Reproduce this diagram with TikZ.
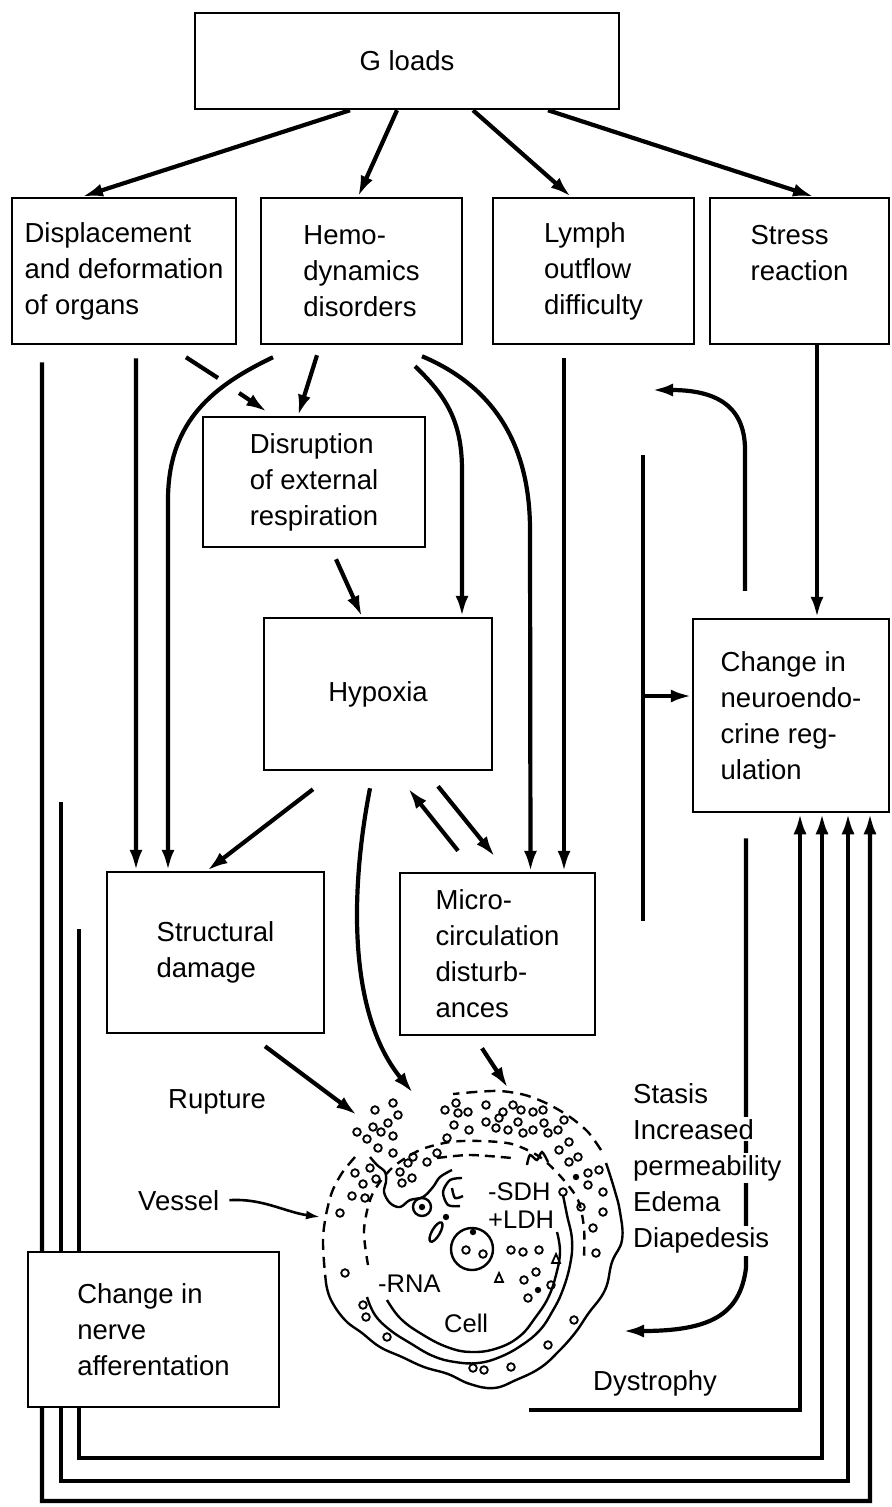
\documentclass[tikz,border=0pt]{standalone}
\usepackage{fontspec}
\setmainfont{Liberation Sans}
\usetikzlibrary{arrows.meta}
\begin{document}
\begin{tikzpicture}[x=1bp, y=-1bp,
        box/.style={draw, line width=2.5bp, inner sep=0pt, align=left,
            font=\fontsize{27.5bp}{36bp}\selectfont},
        lbl/.style={inner sep=0pt, font=\fontsize{27.5bp}{36bp}\selectfont},
        tag/.style={inner sep=0pt, font=\fontsize{25.5bp}{30bp}\selectfont},
        arr/.style={line width=4.2bp, -{Latex[length=21bp,width=13bp]}},
        wire/.style={line width=4.2bp},
        cellline/.style={line width=2.4bp},
        gran/.style={line width=1.8bp}]
            \useasboundingbox (0,0) rectangle (891,1507);
            \fill[white] (0,0) rectangle (891,1507);

            \node[box, minimum width=424bp, minimum height=96bp] (gload) at (407,61) {G loads};
            \node[box, minimum width=224bp, minimum height=146bp] (disp) at (124,271) {Displacement\\and deformation\\of organs};
            \node[box, minimum width=201bp, minimum height=146bp] (hemo) at (361.5,271) {Hemo-\\dynamics\\disorders};
            \node[box, minimum width=201bp, minimum height=146bp] (lymph) at (593.5,271) {Lymph\\outflow\\difficulty};
            \node[box, minimum width=179bp, minimum height=146bp] (stress) at (799.5,271) {Stress\\reaction\\\mbox{}};
            \node[box, minimum width=222bp, minimum height=130bp] (disr) at (314,482) {Disruption\\of external\\respiration};
            \node[box, minimum width=228bp, minimum height=152bp] (hyp) at (378,694) {Hypoxia};
            \node[box, minimum width=196bp, minimum height=193bp] (neuro) at (791,715.5) {Change in\\neuroendo-\\crine reg-\\ulation};
            \node[box, minimum width=217bp, minimum height=161bp] (struct) at (215.5,952.5) {Structural\\damage};
            \node[box, minimum width=195bp, minimum height=162bp] (micro) at (497.5,954) {Micro-\\circulation\\disturb-\\ances};

            \coordinate (gapA) at (218,378);
            \coordinate (gapB) at (239,393);
            \coordinate (cellA) at (357,1115);
            \coordinate (cellB) at (413,1093);
            \coordinate (cellC) at (508,1088);
            \coordinate (wall) at (320,1217);
            \coordinate (fb) at (652,390);
            \coordinate (dys) at (623,1331);
            \coordinate (busT) at (643,455);
            \coordinate (busM) at (643,696);
            \coordinate (busB) at (643,921);
            \coordinate (outB) at (42,1501);
            \coordinate (midA) at (61,802);
            \coordinate (midB) at (61,1481);
            \coordinate (inA) at (79,929);
            \coordinate (inB) at (79,1458);
            \coordinate (dysA) at (529,1410);

            \draw[arr] ([xshift=-57bp]gload.south) -- ([xshift=-42bp]disp.north);
            \draw[arr] ([xshift=-10bp]gload.south) -- ([xshift=-3.5bp]hemo.north);
            \draw[arr] ([xshift=66bp]gload.south) -- ([xshift=-22.5bp]lymph.north);
            \draw[arr] ([xshift=141bp]gload.south) -- ([xshift=14.5bp]stress.north);

            \draw[arr] ([xshift=12bp,yshift=-13bp]disp.south) -- ([xshift=-79.5bp]struct.north);
            \draw[wire] ([xshift=62bp,yshift=-12bp]disp.south) -- (gapA);
            \draw[arr] (gapB) -- ([xshift=-47bp,yshift=4bp]disr.north);
            \draw[arr] ([xshift=-88.5bp,yshift=-12bp]hemo.south) .. controls (215,385) and (168,420) .. (168,500) -- ([xshift=-47.5bp]struct.north);
            \draw[arr] ([xshift=-44.5bp,yshift=-10bp]hemo.south) -- ([xshift=-16bp]disr.north);
            \draw[arr] ([xshift=53.5bp,yshift=-21bp]hemo.south) .. controls (445,395) and (462,420) .. (462,470) -- ([xshift=84bp]hyp.north);
            \draw[arr] ([xshift=60.5bp,yshift=-11bp]hemo.south) .. controls (490,385) and (530,440) .. (530,530) -- ([xshift=33bp]micro.north);
            \draw[arr] ([xshift=-29.5bp,yshift=-13bp]lymph.south) -- ([xshift=-29.5bp]lymph.south |- micro.north);
            \draw[arr] ([xshift=17.5bp]stress.south) -- ([xshift=17.5bp]stress.south |- neuro.north);

            \draw[arr] ([xshift=22bp,yshift=-11bp]disr.south) -- ([xshift=-16bp]hyp.north);
            \draw[arr] ([xshift=-65bp,yshift=-18bp]hyp.south) -- ([xshift=-8.5bp]struct.north);
            \draw[arr] ([xshift=-8bp,yshift=-17bp]hyp.south) .. controls (352,880) and (345,1010) .. (cellB);
            \draw[arr] ([xshift=-39.5bp,yshift=21bp]micro.north) -- ([xshift=30bp,yshift=-17bp]hyp.south);
            \draw[arr] ([xshift=60bp,yshift=-15bp]hyp.south) -- ([xshift=-2.5bp,yshift=15bp]micro.north);
            \draw[arr] ([xshift=49.5bp,yshift=-12bp]struct.south) -- (cellA);
            \draw[arr] ([xshift=-15.5bp,yshift=-12bp]micro.south) -- (cellC);

            \draw[arr] ([xshift=-46bp,yshift=27bp]neuro.north) -- (745,450) .. controls (745,405) and (715,390) .. (fb);
            \draw[wire] (busT) -- (busB);
            \draw[arr] (busM) -- (busM -| neuro.west);
            \draw[arr] ([xshift=-45bp,yshift=-25bp]neuro.south) -- (746,1268) .. controls (740,1315) and (710,1331) .. (dys);

            \draw[arr] ([xshift=-82bp,yshift=-17bp]disp.south) -- (outB) -| ([xshift=79bp]neuro.south);
            \draw[arr] (midA) -- (midB) -| ([xshift=57bp]neuro.south);
            \draw[arr] (inA) -- (inB) -| ([xshift=31bp]neuro.south);
            \draw[arr] (dysA) -| ([xshift=9bp]neuro.south);

            \node[box, fill=white, minimum width=251bp, minimum height=155bp] (nerve) at (153.5,1329.5) {Change in\\nerve\\afferentation};

            \foreach \t [count=\i from 0] in {Stasis,Increased,permeability,Edema,Diapedesis}
            {
                \node[lbl, fill=white, inner sep=2bp, anchor=base west] (stasis\i) at (631,{1103+36.2*\i}) {\t};
            }
            \node[lbl, anchor=base west] (dystrophy) at (593,1390) {Dystrophy};
            \node[lbl, anchor=base west] (rupture) at (168,1108) {Rupture};
            \node[lbl, anchor=base west] (vessel) at (138,1210) {Vessel};
            \draw[line width=2.6bp, -{Latex[length=14bp,width=9bp]}] ([xshift=10bp]vessel.east) .. controls (262,1198) and (285,1212) .. (wall);

            % cell
            \draw[cellline] plot[smooth, tension=0.7] coordinates {(326,1283) (331,1300) (345,1320) (362,1333) (380,1347) (402,1357) (424,1367) (448,1374) (470,1384) (494,1388) (516,1380) (540,1368) (558,1352) (575,1333) (588,1314) (605,1290) (612,1262) (622,1240) (620,1212) (614,1188) (606,1163)};
            \draw[cellline, dash pattern=on 11bp off 7bp] plot[smooth] coordinates {(601,1150) (588,1132) (570,1117) (548,1104) (525,1095) (500,1091) (475,1092) (453,1094)};
            \draw[cellline, dash pattern=on 11bp off 7bp] plot[smooth] coordinates {(355,1157) (342,1173) (332,1192) (326,1215) (323,1238) (324,1262) (326,1283)};
            \draw[cellline, dash pattern=on 9bp off 7bp] plot[smooth] coordinates {(368,1265) (364,1230) (372,1195) (392,1168) (420,1150) (450,1142) (480,1141) (512,1144) (540,1157) (562,1178) (578,1200) (584,1228) (584,1258)};
            \draw[cellline, dash pattern=on 10bp off 6bp] plot[smooth] coordinates {(437,1158) (470,1155) (512,1158)};
            \draw[cellline] plot[smooth, tension=0.7] coordinates {(367,1297) (375,1315) (390,1330) (410,1343) (433,1356) (455,1362) (478,1363) (500,1357) (522,1345) (540,1330) (552,1312) (562,1292) (570,1265) (572,1240) (567,1215) (563,1195)};
            \draw[cellline] plot[smooth, tension=0.7] coordinates {(387,1300) (400,1318) (420,1333) (447,1347) (472,1352) (498,1348) (520,1336) (535,1318) (548,1298) (556,1275) (560,1252) (557,1232)};
            \draw[cellline] plot[smooth, tension=0.6] coordinates {(370,1157) (377,1165) (385,1172) (386,1182) (384,1192) (390,1203) (400,1207) (410,1200) (423,1197) (433,1187) (440,1177) (452,1170)};
            \draw[cellline] plot[smooth] coordinates {(527,1165) (530,1155) (537,1160) (542,1152) (548,1162)};
            \draw[cellline] (472,1249) circle[radius=21bp];
            \draw[cellline] (422,1207) circle[radius=9bp];
            \draw[cellline] plot[smooth] coordinates {(462,1178) (450,1180) (443,1192) (448,1205) (460,1206)};
            \draw[cellline] plot[smooth] coordinates {(452,1188) (455,1198) (463,1196)};
            \draw[cellline] (436,1232) ellipse[x radius=11bp, y radius=4bp, rotate=60];
            \draw[gran] (495,1282) -- (503,1282) -- (499,1273) -- cycle;
            \draw[gran] (552,1263) -- (560,1263) -- (556,1254) -- cycle;
            \foreach \x/\y in {422/1207, 446/1217, 473/1232, 576/1177, 538/1290}
            {
                \fill (\x,\y) circle[radius=3.2bp];
            }
            \foreach \x/\y in {375/1110, 393/1103, 398/1115, 388/1123, 373/1127, 357/1132, 367/1139, 381/1132, 393/1136, 378/1148, 393/1153, 413/1157, 427/1162, 437/1153, 447/1138, 445/1110,
                355/1173, 370/1168, 363/1184, 376/1179, 352/1196, 365/1198, 340/1213, 345/1273, 363/1305, 366/1317, 387/1337, 402/1183, 412/1178, 400/1172, 408/1163,
                456/1103, 458/1113, 468/1112, 486/1105, 503/1112, 513/1105, 521/1110, 533/1112, 543/1110, 454/1125, 469/1130, 486/1122, 499/1118, 496/1128, 508/1130, 518/1122, 523/1133, 533/1130, 544/1123, 548/1133, 558/1130, 564/1120, 569/1142, 578/1157, 559/1150, 569/1162, 588/1173, 599/1170, 588/1185, 603/1192, 563/1192, 603/1212, 593/1228, 596/1253, 581/1207,
                574/1320, 548/1345, 511/1367, 484/1370, 473/1368, 511/1250, 523/1252, 539/1250, 536/1272, 524/1280, 551/1285, 528/1298, 466/1250, 483/1254}
            {
                \draw[gran] (\x,\y) circle[radius=3.8bp];
            }
            \node[tag, anchor=base west] (sdh) at (488,1200) {-SDH};
            \node[tag, anchor=base west] (ldh) at (488,1228) {+LDH};
            \node[tag, anchor=base west] (rna) at (378,1292) {-RNA};
            \node[tag, anchor=base west] (cell) at (444,1332) {Cell};
\end{tikzpicture}
\end{document}
